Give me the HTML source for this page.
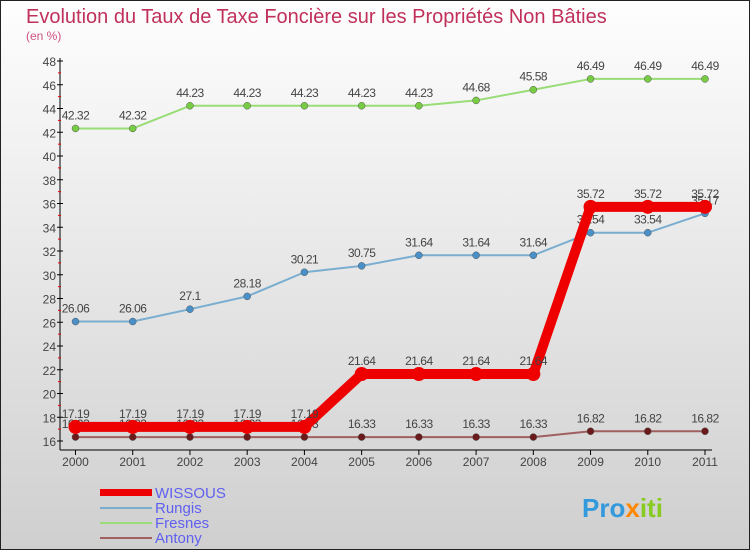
<!DOCTYPE html>
<html><head><meta charset="utf-8"><style>
body{margin:0;width:750px;height:550px;overflow:hidden;font-family:"Liberation Sans",sans-serif}
</style></head><body>
<svg width="750" height="550" xmlns="http://www.w3.org/2000/svg">
<defs><linearGradient id="bg" x1="0" y1="0" x2="0" y2="1"><stop offset="0" stop-color="#fefefe"/><stop offset="1" stop-color="#cfcfcf"/></linearGradient></defs>
<rect x="0.5" y="0.5" width="749" height="549" fill="url(#bg)" stroke="#222"/>
<text x="26" y="23" font-size="20" fill="#c0305a">Evolution du Taux de Taxe Foncière sur les Propriétés Non Bâties</text>
<text x="26" y="40" font-size="12" fill="#d05080">(en %)</text>
<g id="axes"></g><g id="series"></g>
<g>
<rect x="100" y="489" width="52" height="7" fill="#ee0000"/>
<text x="155" y="498" font-size="15" fill="#6060f0">WISSOUS</text>
<line x1="100" y1="508" x2="152" y2="508" stroke="#7aaed0" stroke-width="2"/>
<text x="155" y="513" font-size="15" fill="#6060f0">Rungis</text>
<line x1="100" y1="523" x2="152" y2="523" stroke="#99dd77" stroke-width="2"/>
<text x="155" y="528" font-size="15" fill="#6060f0">Fresnes</text>
<line x1="100" y1="538" x2="152" y2="538" stroke="#a06060" stroke-width="2"/>
<text x="155" y="543" font-size="15" fill="#6060f0">Antony</text>
</g>
<text x="582" y="517" font-size="26" font-weight="bold" fill="#3399dd">Pro<tspan fill="#ff8800">x</tspan><tspan fill="#88cc22">iti</tspan></text>
</svg>
<script>
const years=[2000,2001,2002,2003,2004,2005,2006,2007,2008,2009,2010,2011];
const wissous=[17.19,17.19,17.19,17.19,17.19,21.64,21.64,21.64,21.64,35.72,35.72,35.72];
const rungis=[26.06,26.06,27.1,28.18,30.21,30.75,31.64,31.64,31.64,33.54,33.54,35.17];
const fresnes=[42.32,42.32,44.23,44.23,44.23,44.23,44.23,44.68,45.58,46.49,46.49,46.49];
const antony=[16.33,16.33,16.33,16.33,16.33,16.33,16.33,16.33,16.33,16.82,16.82,16.82];
const yTicks=[16,18,20,22,24,26,28,30,32,34,36,38,40,42,44,46,48];
const NS="http://www.w3.org/2000/svg";
function x(i){return 75.5+(705-75.5)*i/(years.length-1);}
function y(v){return 441-(v-16)*(380/32);}
function mk(t,a,p){const e=document.createElementNS(NS,t);for(const k in a)e.setAttribute(k,a[k]);p.appendChild(e);return e;}
const ax=document.getElementById('axes'),sr=document.getElementById('series');
let l=mk('line',{x1:60,y1:58,x2:60,y2:450,stroke:'#000'},ax);


l=mk('line',{x1:60,y1:450,x2:712,y2:450,stroke:'#000'},ax);


yTicks.forEach(v=>{mk('line',{x1:57,y1:y(v),x2:63,y2:y(v),stroke:'#000'},ax);
 if(v<48)mk('line',{x1:58,y1:y(v+1),x2:61,y2:y(v+1),stroke:'#e00'},ax);
 const t=mk('text',{x:56,y:y(v)+5,'font-size':12,fill:'#444','text-anchor':'end'},ax);t.textContent=v;
 
 });
years.forEach((yr,i)=>{mk('line',{x1:x(i),y1:450,x2:x(i),y2:455,stroke:'#000'},ax);
 const t=mk('text',{x:x(i),y:466,'font-size':12,fill:'#444','text-anchor':'middle'},ax);t.textContent=yr;
 
 });
function series(d,col,dot,w,r,name){
 const p=mk('polyline',{points:d.map((v,i)=>x(i)+','+y(v)).join(' '),fill:'none',stroke:col,'stroke-width':w,'stroke-linejoin':'round'},sr);
 
 
 d.forEach((v,i)=>{const c=mk('circle',{cx:x(i),cy:y(v),r:r,fill:dot,stroke:'#555','stroke-width':w>5?0:0.5},sr);
  
  
  const t=mk('text',{x:x(i),y:y(v)-9,'font-size':12,fill:'#444','text-anchor':'middle','letter-spacing':'-0.5'},sr);t.textContent=v;
  
  });
}
series(fresnes,'#99dd77','#77cc44',2,3.5,'fresnes');
series(rungis,'#7aaed0','#4a90c8',2,3.5,'rungis');
series(antony,'#a06060','#6a1a1a',2,3.5,'antony');
series(wissous,'#ee0000','#ee0000',10,7,'wissous');
</script>
</body></html>
